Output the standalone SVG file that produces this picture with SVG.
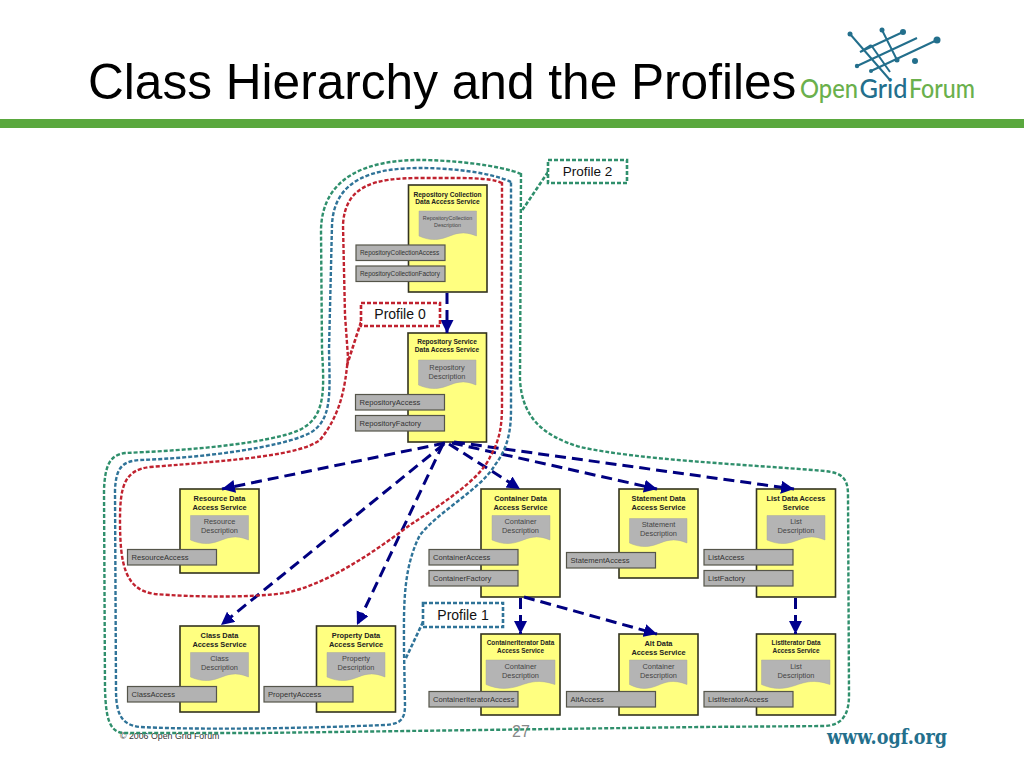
<svg xmlns="http://www.w3.org/2000/svg" width="1024" height="768" viewBox="0 0 1024 768">
<style>
text{font-family:"Liberation Sans",Arial,sans-serif}
.box{fill:#ffff80;stroke:#33331f;stroke-width:1.6}
.doc{fill:#b4b4b4;stroke:#a8a8a0;stroke-width:.5}
.if{fill:#b2b2b2;stroke:#55554a;stroke-width:1.2}
.t{font-size:7.4px;font-weight:bold;fill:#222;text-anchor:middle}
.ts{font-size:6.4px;font-weight:bold;fill:#222;text-anchor:middle}
.d{font-size:7.4px;fill:#444;text-anchor:middle}
.ds{font-size:5.4px;fill:#444;text-anchor:middle}
.i{font-size:7.6px;fill:#333}
.is{font-size:6.4px;fill:#333}
.o{fill:none;stroke-width:2.4;stroke-dasharray:4 2}
.g{stroke:#2f8f6c}.b{stroke:#2f7398}.r{stroke:#c0222f}
.c{fill:#fff;stroke-width:2.6;stroke-dasharray:4 2}
.p{font-size:14px;fill:#111;text-anchor:middle}
.a{fill:none;stroke:#000080;stroke-width:3;stroke-dasharray:11 6;marker-end:url(#ah)}
.l{stroke:#236f8c;stroke-width:2;fill:none}.n{fill:#236f8c}
.logo{font-family:Lato,sans-serif;font-size:27px;font-weight:500}
.lg{fill:#6ab04c}.lb{fill:#236f8c}
.www{font-family:"DejaVu Serif",serif;font-size:20px;font-weight:bold;fill:#236f8c}
</style>
<defs><marker id="ah" markerUnits="userSpaceOnUse" markerWidth="14" markerHeight="14" refX="13" refY="6.500" orient="auto"><path d="M0,0L13,6.500L0,13Z" fill="#000090"/></marker></defs>
<rect width="1024" height="768" fill="#fff"/>
<text x="88" y="99" font-size="49.600" fill="#000">Class Hierarchy and the Profiles</text>
<rect y="119" width="1024" height="9" fill="#5aa83e"/>
<g id="logo">
<path class="l" d="M850,34L890,80M857,66L917,38M871,71L937,40M860,52L903,32M882,30L897,60M860,52L871,45M871,45L890,72"/>
<circle class="n" cx="850" cy="34" r="2.500"/><circle class="n" cx="882" cy="30" r="2.500"/><circle class="n" cx="903" cy="32" r="3"/><circle class="n" cx="937" cy="40" r="3.500"/><circle class="n" cx="915" cy="61" r="3"/><circle class="n" cx="897" cy="60" r="2.500"/><circle class="n" cx="857" cy="66" r="2.200"/><circle class="n" cx="871" cy="71" r="2"/>
<text class="logo lg" x="800" y="98" textLength="58" lengthAdjust="spacingAndGlyphs">Open</text>
<text class="logo lb" x="859.500" y="98" textLength="48" lengthAdjust="spacingAndGlyphs">Grid</text>
<text class="logo lg" x="909" y="98" textLength="66" lengthAdjust="spacingAndGlyphs">Forum</text>
</g>
<g id="footer">
<text x="120" y="739" font-size="8.800" fill="#333">© 2006 Open Grid Forum</text>
<text x="512" y="737" font-size="16" fill="#888">27</text>
<text class="www" x="827" y="744" textLength="120" lengthAdjust="spacingAndGlyphs">www.ogf.org</text>
</g>
<g id="n1"><rect class="box" x="408.500" y="185" width="78.500" height="107"/><text class="t" x="447.500" y="196.500" style="font-size:6.6px">Repository Collection</text><text class="t" x="447.500" y="204" style="font-size:6.6px">Data Access Service</text><path class="doc" d="M419,211H476.500V236C463,230 455,234 447,237C436,241 428,240 419,236Z"/><text class="ds" x="447.500" y="220">RepositoryCollection</text><text class="ds" x="447.500" y="227">Description</text><rect class="if" x="356" y="245" width="89" height="15.500"/><text class="is" x="360" y="255">RepositoryCollectionAccess</text><rect class="if" x="356" y="266" width="89" height="15.500"/><text class="is" x="360" y="276">RepositoryCollectionFactory</text></g>
<g id="n2"><rect class="box" x="408" y="333" width="78.500" height="109"/><text class="t" x="447" y="344" style="font-size:6.6px">Repository Service</text><text class="t" x="447" y="352" style="font-size:6.6px">Data Access Service</text><path class="doc" d="M418.500,360H476V385C463,379 455,383 447,386C436,390 428,389 418.500,385Z"/><text class="d" x="447" y="369.500">Repository</text><text class="d" x="447" y="378.500">Description</text><rect class="if" x="355.500" y="394.500" width="89" height="15.500"/><text class="i" x="359.500" y="405">RepositoryAccess</text><rect class="if" x="355.500" y="415.500" width="89" height="15.500"/><text class="i" x="359.500" y="426">RepositoryFactory</text></g>
<g id="n3"><rect class="box" x="180" y="489" width="79" height="84"/><text class="t" x="219.500" y="501">Resource Data</text><text class="t" x="219.500" y="510">Access Service</text><path class="doc" d="M190.500,515.500H248.500V540C235,534 227,538 219,541C208,545 200,544 190.500,540Z"/><text class="d" x="219.500" y="524">Resource</text><text class="d" x="219.500" y="533">Description</text><rect class="if" x="127.500" y="549.500" width="89" height="15.500"/><text class="i" x="131.500" y="560">ResourceAccess</text></g>
<g id="n4"><rect class="box" x="180" y="626" width="79" height="86"/><text class="t" x="219.500" y="638">Class Data</text><text class="t" x="219.500" y="647">Access Service</text><path class="doc" d="M190.500,652.500H248.500V677C235,671 227,675 219,678C208,682 200,681 190.500,677Z"/><text class="d" x="219.500" y="661">Class</text><text class="d" x="219.500" y="670">Description</text><rect class="if" x="127.500" y="686.500" width="89" height="15.500"/><text class="i" x="131.500" y="697">ClassAccess</text></g>
<g id="n5"><rect class="box" x="316.500" y="626" width="79" height="86"/><text class="t" x="356" y="638">Property Data</text><text class="t" x="356" y="647">Access Service</text><path class="doc" d="M327,652.500H385V677C371.500,671 363.500,675 355.500,678C344.500,682 336.500,681 327,677Z"/><text class="d" x="356" y="661">Property</text><text class="d" x="356" y="670">Description</text><rect class="if" x="264" y="686.500" width="89" height="15.500"/><text class="i" x="268" y="697">PropertyAccess</text></g>
<g id="n6"><rect class="box" x="481" y="489" width="79" height="108"/><text class="t" x="520.500" y="501">Container Data</text><text class="t" x="520.500" y="510">Access Service</text><path class="doc" d="M492,515.500H550V540C536.500,534 528.500,538 520.500,541C509.500,545 501.500,544 492,540Z"/><text class="d" x="520.500" y="524">Container</text><text class="d" x="520.500" y="533">Description</text><rect class="if" x="429" y="549.500" width="89" height="15.500"/><text class="i" x="433" y="560">ContainerAccess</text><rect class="if" x="429" y="570.500" width="89" height="15.500"/><text class="i" x="433" y="581">ContainerFactory</text></g>
<g id="n7"><rect class="box" x="619" y="489" width="79" height="89"/><text class="t" x="658.500" y="501">Statement Data</text><text class="t" x="658.500" y="510">Access Service</text><path class="doc" d="M629.500,518.500H687V543C673.500,537 665.500,541 657.500,544C646.500,548 638.500,547 629.500,543Z"/><text class="d" x="658.500" y="527">Statement</text><text class="d" x="658.500" y="536">Description</text><rect class="if" x="566.500" y="552.500" width="89" height="15.500"/><text class="i" x="570.500" y="563">StatementAccess</text></g>
<g id="n8"><rect class="box" x="756.500" y="489" width="79" height="108"/><text class="t" x="796" y="501">List Data Access</text><text class="t" x="796" y="510">Service</text><path class="doc" d="M767,515.500H825V540C811.500,534 803.500,538 795.500,541C784.500,545 776.500,544 767,540Z"/><text class="d" x="796" y="524">List</text><text class="d" x="796" y="533">Description</text><rect class="if" x="704" y="549.500" width="89" height="15.500"/><text class="i" x="708" y="560">ListAccess</text><rect class="if" x="704" y="570.500" width="89" height="15.500"/><text class="i" x="708" y="581">ListFactory</text></g>
<g id="n9"><rect class="box" x="481" y="634" width="79" height="81"/><text class="ts" x="520.500" y="645">ContainerIterator Data</text><text class="ts" x="520.500" y="653">Access Service</text><path class="doc" d="M486,660H555V684.500C539,679 530,682 520,685.500C507,690 497,689 486,684.500Z"/><text class="d" x="520.500" y="669">Container</text><text class="d" x="520.500" y="678">Description</text><rect class="if" x="429" y="691.500" width="89" height="15.500"/><text class="i" x="433" y="702">ContainerIteratorAccess</text></g>
<g id="n10"><rect class="box" x="619" y="634" width="79" height="81"/><text class="t" x="658.500" y="646">Alt Data</text><text class="t" x="658.500" y="655">Access Service</text><path class="doc" d="M629.500,660H687V684.500C673.500,679 665.500,682 657.500,685.500C646.500,690 638.500,689 629.500,684.500Z"/><text class="d" x="658.500" y="669">Container</text><text class="d" x="658.500" y="678">Description</text><rect class="if" x="566.500" y="691.500" width="89" height="15.500"/><text class="i" x="570.500" y="702">AltAccess</text></g>
<g id="n11"><rect class="box" x="756.500" y="634" width="79" height="81"/><text class="ts" x="796" y="645">ListIterator Data</text><text class="ts" x="796" y="653">Access Service</text><path class="doc" d="M761.500,660H830V684.500C814,679 805,682 795,685.500C782,690 772,689 761.500,684.500Z"/><text class="d" x="796" y="669">List</text><text class="d" x="796" y="678">Description</text><rect class="if" x="704" y="691.500" width="89" height="15.500"/><text class="i" x="708" y="702">ListIteratorAccess</text></g>
<g id="connectors">
<path class="a" d="M447,293V333"/>
<path class="a" d="M445,443L222,489"/>
<path class="a" d="M444,444L221,625"/>
<path class="a" d="M443,444L357,625"/>
<path class="a" d="M449,444L520,489"/>
<path class="a" d="M452,443L657,489"/>
<path class="a" d="M454,442L794,489"/>
<path class="a" d="M520.500,598V634"/>
<path class="a" d="M524,597L657,634"/>
<path class="a" d="M795.500,598V634"/>
<path class="o g" d="M521,174C500,165 450,160 420,160C370,160 322,175 321,230L322,350C325,400 325,425 285,435C240,447 170,451 125,453C110,455 105,465 104,490L105,690C106,715 108,733 125,733L260,733L700,727L825,726C842,725 849,715 849,695L848,495C848,478 842,473 825,471C740,464 640,460 580,447C540,435 522,415 520,380Z"/>
<path class="o b" d="M511,182C490,172 450,168 420,168C375,168 334,178 332,225L329,350C330,395 332,420 310,433C280,448 200,458 140,460C122,461 116,468 115,490L116,690C116,715 122,725 140,727C180,729 260,730 385,725C400,724 405,720 405,705L404,650C404,610 402,570 420,535C440,510 480,490 495,465C508,448 511,430 511,410Z"/>
<path class="o r" d="M502,183C490,177 460,178 420,178C375,178 345,185 343,225L345,315L348,357C345,390 340,415 320,440C300,455 240,460 150,467C125,470 120,485 120,520C120,565 125,590 155,594C190,597 250,598 285,593C325,585 370,555 410,525C440,505 480,480 490,457C500,440 502,425 502,405Z"/>
</g>
<g id="callouts">
<path class="o g" d="M548,172L521,212" style="stroke-width:2.6"/>
<rect class="c g" x="548" y="160" width="79" height="23"/><text class="p" x="587.500" y="176" style="font-size:13.5px">Profile 2</text>
<path class="o r" d="M361,322L347,365" style="stroke-width:2.6"/>
<rect class="c r" x="361" y="303" width="79" height="23"/><text class="p" x="400" y="319">Profile 0</text>
<path class="o b" d="M423,622L405,660" style="stroke-width:2.6"/>
<rect class="c b" x="423" y="603" width="80" height="24"/><text class="p" x="463" y="620">Profile 1</text>
</g>
</svg>
